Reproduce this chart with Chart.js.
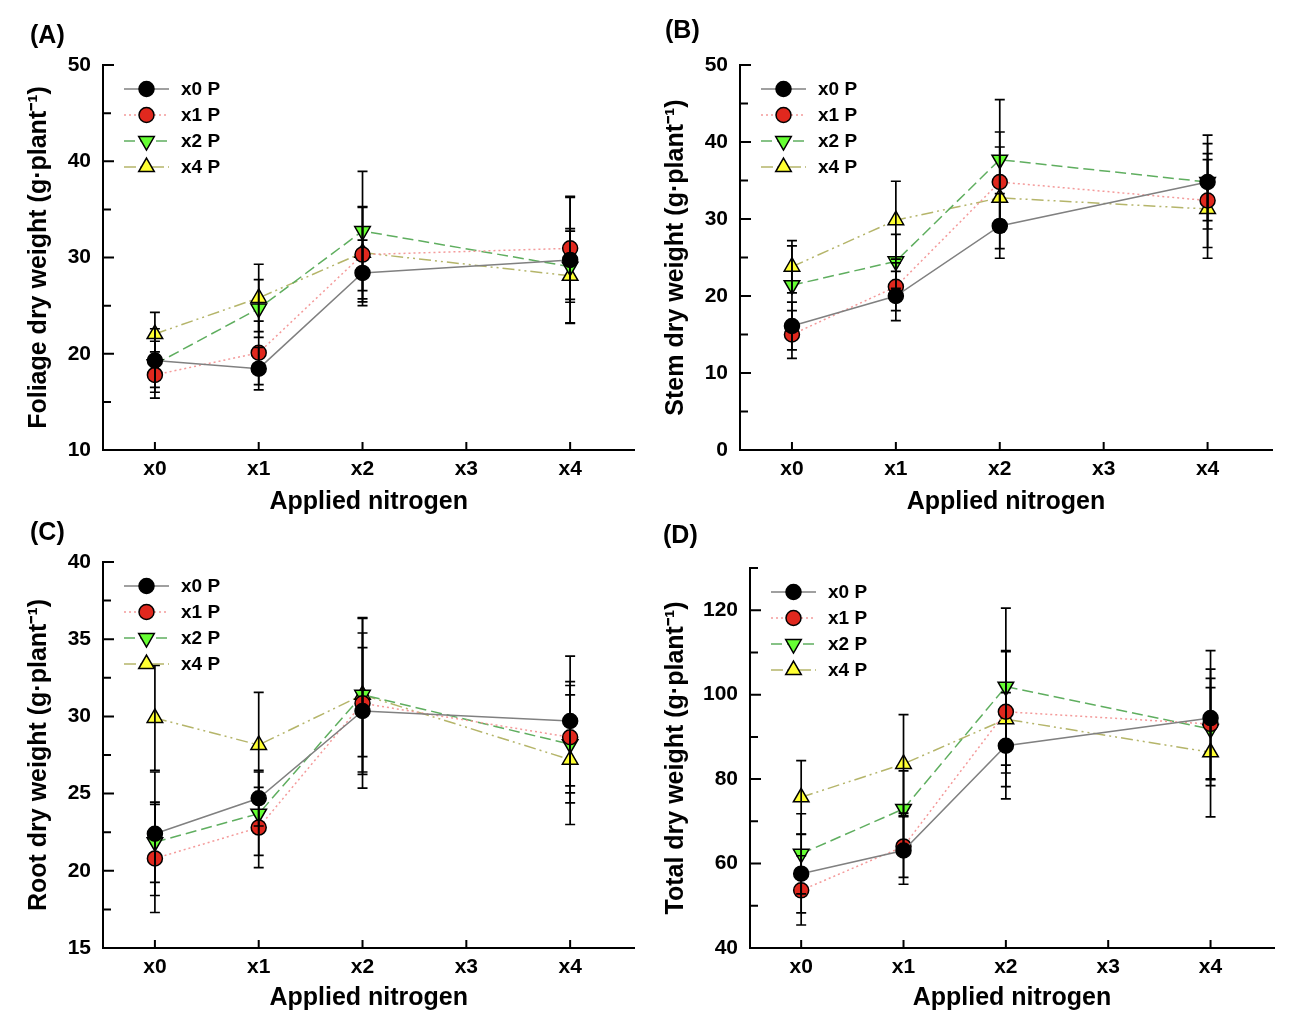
<!DOCTYPE html>
<html>
<head>
<meta charset="utf-8">
<script src="https://cdn.jsdelivr.net/npm/chart.js@4.4.0/dist/chart.umd.min.js"></script>
<style>
html, body { margin: 0; padding: 0; background: #fff; }
#wrap { position: relative; width: 1290px; height: 1032px; overflow: hidden; }
canvas { position: absolute; }
.tag { position: absolute; font: bold 25px "Liberation Sans", Arial, sans-serif; line-height: 25px; color: #000; z-index: 2; }
</style>
</head>
<body>
<div id="wrap">
  <canvas id="chartA" width="645" height="515" style="left:0;top:0"></canvas>
  <canvas id="chartB" width="645" height="515" style="left:645px;top:0"></canvas>
  <canvas id="chartC" width="645" height="517" style="left:0;top:515px"></canvas>
  <canvas id="chartD" width="645" height="517" style="left:645px;top:515px"></canvas>
  <div class="tag" style="left:30px;top:22px">(A)</div>
  <div class="tag" style="left:665px;top:17px">(B)</div>
  <div class="tag" style="left:30px;top:519px">(C)</div>
  <div class="tag" style="left:663px;top:522px">(D)</div>
</div>
<script>
// categories on the x axis, and the levels that were measured
const categories = ['x0', 'x1', 'x2', 'x3', 'x4'];
const levels = ['x0', 'x1', 'x2', 'x4'];
const seriesNames = ['x0 P', 'x1 P', 'x2 P', 'x4 P'];

// (A) foliage
const foliageX0P = [19.3, 18.45, 28.4, 29.75];
const foliageX1P = [17.8, 20.1, 30.3, 30.95];
const foliageX2P = [18.9, 24.7, 32.75, 29.05];
const foliageX4P = [22.05, 25.8, 30.5, 28.1];
const foliageX0PErr = [3.3, 2.2, 3.4, 6.6];
const foliageX1PErr = [2.4, 3.3, 4.9, 5.3];
const foliageX2PErr = [2.4, 3.0, 6.2, 3.7];
const foliageX4PErr = [2.25, 3.5, 4.8, 4.9];
const foliageTicks = [10, 20, 30, 40, 50];

// (B) stem
const stemX0P = [16.1, 20.0, 29.1, 34.8];
const stemX1P = [15.0, 21.2, 34.8, 32.4];
const stemX2P = [21.4, 24.5, 37.7, 34.8];
const stemX4P = [23.8, 29.85, 32.75, 31.3];
const stemX0PErr = [3.1, 3.2, 4.2, 5.0];
const stemX1PErr = [3.1, 3.1, 6.5, 6.1];
const stemX2PErr = [5.1, 3.5, 7.8, 6.1];
const stemX4PErr = [3.4, 5.05, 6.6, 6.4];
const stemTicks = [0, 10, 20, 30, 40, 50];

// (C) root
const rootX0P = [22.4, 24.7, 30.35, 29.7];
const rootX1P = [20.8, 22.8, 30.85, 28.65];
const rootX2P = [21.85, 23.7, 31.4, 28.2];
const rootX4P = [29.9, 28.15, 31.4, 27.2];
const rootX0PErr = [4.0, 1.8, 4.1, 4.2];
const rootX1PErr = [3.5, 2.6, 5.5, 3.6];
const rootX2PErr = [2.6, 2.7, 5.0, 3.8];
const rootX4PErr = [3.4, 3.4, 4.0, 4.2];
const rootTicks = [15, 20, 25, 30, 35, 40];

// (D) total
const totalX0P = [57.6, 63.1, 87.9, 94.45];
const totalX1P = [53.65, 64.05, 95.95, 93.05];
const totalX2P = [62.3, 72.95, 101.9, 91.85];
const totalX4P = [75.7, 83.6, 94.2, 86.35];
const totalX0PErr = [9.3, 8.0, 12.6, 16.0];
const totalX1PErr = [8.2, 7.3, 14.5, 13.0];
const totalX2PErr = [9.5, 9.0, 18.6, 12.0];
const totalX4PErr = [8.7, 11.65, 16.0, 15.3];
const totalTicks = [40, 60, 80, 100, 120];

const FONT = '"Liberation Sans", Arial, sans-serif';

// line / marker look of each series
const seriesStyles = [
    { line: '#808080', dash: [], fill: '#000000', point: 'circle', rotation: 0, radius: 7.5 },
    { line: '#f49a9a', dash: [2, 3], fill: '#e0281e', point: 'circle', rotation: 0, radius: 7.5 },
    { line: '#5fae5f', dash: [11, 5], fill: '#66ff33', point: 'triangle', rotation: 180, radius: 9 },
    { line: '#b5b56a', dash: [12, 4, 2, 4, 2, 4], fill: '#ffff33', point: 'triangle', rotation: 0, radius: 9 }
];

document.addEventListener('DOMContentLoaded', function() {
    makePanel({
        canvas: 'chartA', yTitle: 'Foliage dry weight (g·plant⁻¹)',
        series: [foliageX0P, foliageX1P, foliageX2P, foliageX4P],
        errors: [foliageX0PErr, foliageX1PErr, foliageX2PErr, foliageX4PErr],
        yMin: 10, yMax: 50, yTicks: foliageTicks,
        yWidth: 103, padTop: 65, padRight: 8, xHeight: 65, yTitlePad: 27, xTitlePad: 0
    });
    makePanel({
        canvas: 'chartB', yTitle: 'Stem dry weight (g·plant⁻¹)',
        series: [stemX0P, stemX1P, stemX2P, stemX4P],
        errors: [stemX0PErr, stemX1PErr, stemX2PErr, stemX4PErr],
        yMin: 0, yMax: 50, yTicks: stemTicks,
        yWidth: 95, padTop: 65, padRight: 18, xHeight: 65, yTitlePad: 19, xTitlePad: 0
    });
    makePanel({
        canvas: 'chartC', yTitle: 'Root dry weight (g·plant⁻¹)',
        series: [rootX0P, rootX1P, rootX2P, rootX4P],
        errors: [rootX0PErr, rootX1PErr, rootX2PErr, rootX4PErr],
        yMin: 15, yMax: 40, yTicks: rootTicks,
        yWidth: 103, padTop: 47, padRight: 8, xHeight: 84, yTitlePad: 27, xTitlePad: 21
    });
    makePanel({
        canvas: 'chartD', yTitle: 'Total dry weight (g·plant⁻¹)',
        series: [totalX0P, totalX1P, totalX2P, totalX4P],
        errors: [totalX0PErr, totalX1PErr, totalX2PErr, totalX4PErr],
        yMin: 40, yMax: 130, yTicks: totalTicks,
        yWidth: 105, padTop: 53, padRight: 16, xHeight: 84, yTitlePad: 19, xTitlePad: 21
    });
});

// inward ticks, error bars and the legend box inside the plot
const panelDecor = {
    id: 'panelDecor',
    afterDatasetsDraw(chart) {
        const ctx = chart.ctx;
        const xs = chart.scales.x, ys = chart.scales.y;
        ctx.save();
        ctx.strokeStyle = '#000';
        ctx.lineWidth = 1.7;
        ctx.setLineDash([]);
        chart.data.datasets.forEach(ds => {
            ds.data.forEach((p, j) => {
                const e = ds.errors[j];
                const px = xs.getPixelForValue(p.x);
                const top = ys.getPixelForValue(p.y + e);
                const bot = ys.getPixelForValue(p.y - e);
                ctx.beginPath();
                ctx.moveTo(px, top); ctx.lineTo(px, bot);
                ctx.moveTo(px - 5, top); ctx.lineTo(px + 5, top);
                ctx.moveTo(px - 5, bot); ctx.lineTo(px + 5, bot);
                ctx.stroke();
            });
        });
        ctx.restore();
    },
    afterDraw(chart) {
        const ctx = chart.ctx;
        const area = chart.chartArea;
        const xs = chart.scales.x, ys = chart.scales.y;
        const major = chart.options.yMajor;
        ctx.save();
        ctx.strokeStyle = '#000';
        ctx.lineWidth = 2;
        ctx.beginPath();
        // y ticks, major and the minor halfway ones
        const step = major[1] - major[0];
        major.forEach(v => {
            const py = ys.getPixelForValue(v);
            ctx.moveTo(area.left, py); ctx.lineTo(area.left + 11, py);
            const m = v + step / 2;
            if (m <= ys.max) {
                const pm = ys.getPixelForValue(m);
                ctx.moveTo(area.left, pm); ctx.lineTo(area.left + 8, pm);
            }
        });
        categories.forEach((c, i) => {
            const px = xs.getPixelForValue(i);
            ctx.moveTo(px, area.bottom); ctx.lineTo(px, area.bottom - 8);
        });
        ctx.stroke();

        // legend
        chart.data.datasets.forEach((ds, i) => {
            const st = seriesStyles[i];
            const y = area.top + 24 + i * 26;
            ctx.beginPath();
            ctx.strokeStyle = st.line;
            ctx.lineWidth = 1.5;
            ctx.setLineDash(st.dash);
            ctx.moveTo(area.left + 21, y); ctx.lineTo(area.left + 66, y);
            ctx.stroke();
            ctx.setLineDash([]);
            ctx.fillStyle = st.fill;
            ctx.strokeStyle = '#000';
            ctx.lineWidth = 1.5;
            Chart.helpers.drawPoint(ctx, { pointStyle: st.point, rotation: st.rotation, radius: st.radius, borderWidth: 1.5 }, area.left + 43.5, y);
            ctx.fillStyle = '#000';
            ctx.font = 'bold 19px ' + FONT;
            ctx.textBaseline = 'middle';
            ctx.textAlign = 'left';
            ctx.fillText(ds.label, area.left + 78, y + 1);
        });
        ctx.restore();
    }
};

function makePanel(cfg) {
    const ctx = document.getElementById(cfg.canvas).getContext('2d');
    const datasets = cfg.series.map((vals, i) => {
        const st = seriesStyles[i];
        return {
            label: seriesNames[i],
            data: vals.map((v, j) => ({ x: categories.indexOf(levels[j]), y: v })),
            errors: cfg.errors[i],
            borderColor: st.line,
            borderDash: st.dash,
            borderWidth: 1.5,
            pointStyle: st.point,
            pointRotation: st.rotation,
            pointRadius: st.radius,
            pointBackgroundColor: st.fill,
            pointBorderColor: '#000',
            pointBorderWidth: 1.5,
            tension: 0,
            fill: false
        };
    });

    new Chart(ctx, {
        type: 'line',
        data: { datasets: datasets },
        plugins: [panelDecor],
        options: {
            responsive: false,
            animation: false,
            devicePixelRatio: 1,
            yMajor: cfg.yTicks,
            layout: { padding: { left: 0, top: cfg.padTop, right: cfg.padRight, bottom: 0 } },
            plugins: { legend: { display: false }, tooltip: { enabled: false } },
            scales: {
                x: {
                    type: 'linear',
                    min: -0.5,
                    max: 4.62,
                    afterBuildTicks: s => { s.ticks = categories.map((c, i) => ({ value: i })); },
                    afterFit: s => { s.height = cfg.xHeight; },
                    grid: { display: false, drawTicks: false },
                    border: { display: true, color: '#000', width: 2 },
                    ticks: {
                        autoSkip: false, maxRotation: 0, padding: 7, color: '#000',
                        font: { family: FONT, size: 21, weight: 'bold' },
                        callback: v => categories[v]
                    },
                    title: {
                        display: true, text: 'Applied nitrogen', color: '#000',
                        font: { family: FONT, size: 25, weight: 'bold', lineHeight: 1 },
                        padding: { top: 0, bottom: cfg.xTitlePad }
                    }
                },
                y: {
                    min: cfg.yMin,
                    max: cfg.yMax,
                    afterBuildTicks: s => { s.ticks = cfg.yTicks.map(v => ({ value: v })); },
                    afterFit: s => { s.width = cfg.yWidth; },
                    grid: { display: false, drawTicks: false },
                    border: { display: true, color: '#000', width: 2 },
                    ticks: {
                        padding: 12, color: '#000',
                        font: { family: FONT, size: 21, weight: 'bold' }
                    },
                    title: {
                        display: true, text: cfg.yTitle, color: '#000',
                        font: { family: FONT, size: 25, weight: 'bold', lineHeight: 1 },
                        padding: { top: cfg.yTitlePad, bottom: 0 }
                    }
                }
            }
        }
    });
}
</script>
</body>
</html>
